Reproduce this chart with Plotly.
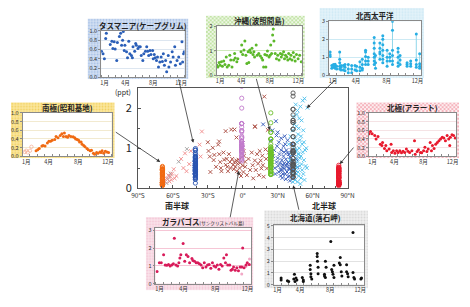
import base64
import plotly.graph_objects as go

W, H = 470, 307
FONT = "Noto Sans CJK JP"

# ---------------- inset data (x = month position, 1 = start of Jan, 13 = end of Dec ; y = ppt)
tas_month = [1.05,1.28,1.47,1.66,1.75,2.31,2.55,2.69,2.88,3.02,3.25,3.34,3.63,3.81,3.95,4.09,4.19,4.33,4.42,4.66,4.80,4.98,
             5.13,5.36,5.50,5.59,5.83,5.97,6.06,6.30,6.44,6.63,6.77,7.00,7.14,7.38,7.56,7.70,7.84,8.03,8.17,8.41,8.50,8.64,
             8.78,8.97,9.11,9.25,9.44,9.63,9.81,9.95,10.10,10.28,10.43,10.66,10.75,10.99,11.22,11.36,11.59,11.69,11.92,
             12.16,12.39,12.63,12.72,12.86,12.95]
tas_ppt = [0.56,0.51,0.40,0.84,0.95,0.71,0.78,0.62,0.77,0.61,0.36,0.75,0.88,0.95,0.69,0.80,0.99,0.58,0.69,0.55,0.42,0.78,
           0.51,0.47,0.42,0.66,0.56,0.73,0.69,0.62,0.66,0.66,0.47,0.36,0.51,0.56,0.66,0.56,0.47,0.58,0.49,0.58,0.40,0.49,
           0.42,0.36,0.44,0.22,0.33,0.44,0.34,0.51,0.26,0.36,0.12,0.47,0.22,0.33,0.55,0.44,0.66,0.26,0.36,
           0.44,0.29,0.77,0.33,0.51,0.55]

oki_month = [1.05,1.18,1.36,1.50,1.68,1.82,2.00,2.18,2.36,2.49,2.72,2.86,2.99,3.17,3.40,3.54,3.63,3.85,3.99,4.44,
             4.53,4.67,4.85,4.98,5.12,5.26,5.44,5.53,5.66,5.80,5.98,6.12,6.25,6.34,6.57,6.71,6.93,7.16,7.34,7.48,
             7.61,7.79,7.93,8.06,8.15,8.38,8.52,8.61,8.74,8.88,8.97,9.06,9.24,9.42,9.60,9.78,9.97,10.10,10.24,10.42,
             10.55,10.69,10.87,11.01,11.14,11.32,11.46,11.60,11.78,11.91,12.05,12.23,12.46,12.68,12.91]
oki_ppt = [0.41,0.34,0.52,0.41,0.55,0.37,0.58,0.44,0.75,0.34,0.41,0.82,0.62,0.34,0.62,0.89,0.71,0.55,0.68,0.96,
           1.23,0.85,1.03,1.40,0.82,0.48,0.96,0.52,1.03,0.93,1.10,0.85,0.96,0.75,1.23,0.82,0.89,0.79,0.71,0.62,
           0.34,0.85,0.34,0.82,0.99,0.75,0.82,1.23,0.89,1.64,1.89,1.40,0.89,0.68,0.82,0.62,0.89,0.75,0.85,0.96,
           0.68,0.82,0.75,0.62,0.89,0.68,0.82,0.62,0.93,0.75,0.58,0.85,0.68,0.82,0.55]

nwp_month = [1.13,1.35,1.56,1.78,1.99,2.38,2.55,2.86,3.07,3.50,3.94,4.37,4.58,5.01,5.32,5.75,6.09,6.87,7.04,7.61,
             7.99,8.55,8.90,9.25,9.98,10.24,11.15,11.62,12.35,12.79]
nwp_ppt = [[1.05,1.15,1.30],[0.40,0.55],[0.45,0.60],[0.40,0.50,0.62],[0.35,0.50],[0.35,0.50,0.70,0.90,1.30],
           [0.30,0.45,0.55],[0.30,0.55],[0.25,0.45,0.60],[0.15,0.35,0.60],[0.15,0.35,0.55],[0.30,0.55],[0.25,0.50],
           [0.25,0.45,0.75],[0.30,0.40,0.60,0.90],[0.60,0.80,1.05,1.30,1.40],[0.60,0.80,1.00],
           [0.60,0.80,1.00,1.20,1.50,1.80,2.10],[0.40,0.70,1.10],[0.90,1.20,1.30,1.50,1.80],
           [0.70,0.90,1.10,1.40,1.70,2.00,2.20],[0.50,0.80,1.00,1.40],[0.80,1.00,1.20],
           [0.60,0.80,1.10,1.40,2.50,3.00],[0.50,0.70,1.00,1.30,1.50],[0.60,0.85,1.10],[0.50,0.60,0.70],
           [0.50,0.65,0.80],[0.45,0.60,0.85,2.30],[0.40,0.50,0.65,1.20]]

syo_month = [2.82,3.04,3.25,3.60,3.77,4.03,4.34,4.55,4.77,4.99,5.33,5.51,5.77,6.07,6.29,6.50,6.63,6.85,7.06,7.24,
             7.50,7.80,8.02,8.15,8.36,8.54,8.67,8.88,9.01,9.23,9.40,9.66,9.84,10.10,10.27,10.53,10.70,10.96,11.14,11.40,
             11.57,11.70,11.92,12.13,12.35,12.57]
syo_ppt = [0.13,0.15,0.18,0.24,0.25,0.24,0.31,0.35,0.35,0.37,0.39,0.46,0.43,0.48,0.52,0.46,0.54,0.46,0.44,0.48,
           0.46,0.45,0.43,0.40,0.39,0.37,0.33,0.33,0.28,0.25,0.22,0.18,0.15,0.13,0.14,0.07,0.05,0.09,0.07,0.10,
           0.09,0.13,0.07,0.12,0.10,0.09]
syo_pale_month = [1.30, 1.50, 1.70, 2.00, 2.20]
syo_pale_ppt = [0.10, 0.13, 0.09, 0.13, 0.22]

alr_month = [1.03,1.22,1.45,1.81,1.99,2.25,2.57,2.79,2.88,3.15,3.33,3.46,3.78,4.05,4.13,4.36,4.58,4.81,5.03,5.25,
             5.48,5.70,5.93,6.15,6.37,6.60,6.91,7.27,7.36,7.63,7.81,8.08,8.25,8.52,8.70,8.97,9.15,9.42,9.60,9.73,
             9.96,10.18,10.40,10.63,10.85,11.08,11.30,11.52,11.75,11.97,12.11,12.19,12.42,12.64,12.87]
alr_ppt = [0.52,0.57,0.52,0.48,0.40,0.46,0.28,0.25,0.32,0.18,0.25,0.13,0.17,0.28,0.09,0.13,0.07,0.13,0.09,0.13,
           0.08,0.12,0.09,0.17,0.12,0.09,0.13,0.36,0.05,0.11,0.15,0.09,0.08,0.13,0.21,0.11,0.17,0.32,0.13,0.25,
           0.18,0.28,0.32,0.36,0.40,0.44,0.42,0.36,0.48,0.40,0.25,0.44,0.50,0.48,0.42]

gal_month = [1.20,1.49,1.73,2.02,2.22,2.42,2.63,2.83,3.03,3.24,3.36,3.56,3.77,3.93,4.05,4.17,4.46,4.66,4.86,5.07,
             5.27,5.56,5.68,5.88,6.09,6.29,6.49,6.70,6.90,7.10,7.31,7.51,7.71,7.92,8.12,8.32,8.53,8.73,8.93,9.14,
             9.34,9.54,9.75,9.87,10.03,10.28,10.44,10.60,10.76,10.97,11.17,11.37,11.58,11.78,11.90,12.07,12.31,12.47,12.72]
gal_ppt = [0.68,1.17,1.17,1.62,1.05,1.03,1.08,0.99,1.05,1.12,2.56,1.05,0.99,1.17,1.44,1.62,2.26,1.26,1.62,1.53,
           1.17,1.41,1.30,1.26,1.17,1.17,1.12,1.05,0.90,1.17,0.94,1.05,1.08,0.86,1.17,0.99,0.94,1.05,0.81,1.08,
           0.99,1.44,1.17,1.62,1.05,1.05,0.75,0.81,0.94,0.75,0.90,0.72,0.94,0.94,2.01,0.90,1.05,1.17,1.08]
gal_pale_month = [11.78, 12.30, 12.75]
gal_pale_ppt = [0.54, 0.97, 1.38]

hok_month = [1.97,1.97,2.81,2.98,3.65,3.74,3.82,3.95,4.07,4.79,4.92,4.92,5.84,5.84,5.93,5.93,6.05,6.77,6.77,6.81,
             6.89,6.89,7.74,7.74,7.86,7.86,7.95,8.58,8.70,8.79,8.87,9.00,9.00,9.71,9.84,9.84,9.97,10.05,10.68,10.68,
             10.81,10.89,11.53,11.53,11.65,11.74,12.58,12.66]
hok_ppt = [0.55,0.38,0.33,0.27,0.47,0.88,0.27,0.55,0.38,0.60,0.38,0.27,1.65,1.29,0.93,0.66,0.47,2.66,2.39,1.98,
           1.48,0.93,0.88,0.74,0.60,1.98,1.48,3.68,1.29,1.10,0.88,0.60,1.65,1.84,2.31,1.70,1.10,0.74,1.70,1.10,
           0.93,0.66,4.45,1.02,0.60,0.47,0.47,0.55]

# ---------------- main plot data (latitude, ppt)
syowa_lat, capegrim_lat, galapagos_lat = -69.0, -40.7, -0.9
hateruma_lat, ochiishi_lat, alert_lat = 24.1, 43.2, 82.5

gray_pts = [(-65.5,0.12),(-64.5,0.22),(-63.0,0.30),(-62.0,0.36),(-55.0,0.66),(-48.0,0.98)]
pink_pts = [(-66.8,0.16),(-65.4,0.24),(-64.0,0.32),(-62.9,0.16),(-62.1,0.28),(-61.3,0.20),(-60.7,0.36),(-59.3,0.47),
            (-58.5,0.24),(-57.0,0.30),(-53.0,0.73),(-51.0,0.50),(-49.6,0.87),(-48.3,0.42),(-46.0,0.60),(-44.6,0.93),
            (-37.1,1.09),(-36.2,0.79),(-35.1,1.42)]
brown_pts = [(-30.0,1.15),(-29.4,0.93),(-28.3,0.79),(-27.8,0.40),(-25.8,1.01),(-24.4,0.83),(-23.0,0.53),(-21.1,1.09),
             (-20.2,0.85),(-19.4,0.65),(-18.8,0.50),(-18.3,0.42),(-16.6,0.89),(-16.0,0.71),(-14.6,0.58),(-13.8,0.73),
             (-13.3,0.53),(-12.7,0.42),(-11.9,0.85),(-11.0,0.65),(-10.5,0.50),(-9.9,1.47),(-9.1,0.73),(-8.3,0.58),
             (-7.7,0.47),(-7.2,0.65),(-6.3,0.53),(-5.5,0.69),(-5.0,0.42),(-4.4,0.61),(-3.6,0.71),(-2.7,0.50),
             (-2.2,0.63),(-0.8,0.77),(0.0,0.56),(0.6,0.40),(1.1,0.81),(2.0,0.66),(0.7,0.93),(2.1,0.53),(3.5,0.32),
             (4.9,0.73),(6.3,0.45),(7.7,0.89),(8.5,0.57),(9.0,0.24),(10.4,1.54),(10.4,0.69),(11.2,0.45),(12.3,0.85),
             (13.2,0.61),(14.0,0.32),(14.6,0.93),(15.4,0.69),(16.0,0.49),(16.8,0.81),(17.3,0.57),(17.9,0.28),
             (19.6,0.97),(20.1,0.73),(20.7,0.49),(21.5,1.46),(22.4,0.89),(-20.3,1.17),(-14.7,1.43),(-7.1,1.47),
             (-5.4,1.27),(10.5,1.55),(-25.0,0.70),(-3.0,0.36),(-1.5,0.30),(18.5,2.30)]
dblue_pts = [(17.5,1.60),(24.0,1.20),(25.5,1.45),(27.0,0.95),(28.5,1.68),(29.0,1.32),(29.5,1.05),(30.0,0.75),
             (30.5,0.55),(31.0,1.15),(31.5,0.85),(32.0,0.62),(32.5,0.45),(33.0,0.95),(33.5,0.70),(34.0,0.52),
             (34.5,0.35),(35.0,0.80),(35.5,0.62),(36.0,0.48),(36.5,1.10),(37.0,0.72),(37.5,0.55),(38.0,0.40),
             (38.5,0.88),(39.0,0.65),(39.5,0.50),(40.0,0.30),(40.5,0.78),(41.0,0.58),(41.5,0.42),(42.0,0.95),
             (42.5,0.68),(43.0,0.45),(44.0,0.85),(44.5,0.60),(45.0,0.38),(46.0,0.72),(47.0,0.52),(33.0,1.25),
             (36.0,1.30),(38.5,1.20),(34.0,0.25),(37.0,0.22),(40.5,0.18),(31.0,0.40),(29.0,0.65),(27.5,0.50),
             (42.5,1.10),(26.0,0.80),(32.5,0.30),(35.5,0.90),(39.5,0.85),(36.5,0.35),(34.5,0.58),(38.0,0.60),
             (40.0,0.48),(41.5,0.70),(33.5,0.45),(37.5,0.95),(30.0,1.40),(35.0,1.05),(28.0,0.35),(43.5,0.25),
             (39.0,0.28)]
lblue_pts = [(45.5,2.10),(47.0,1.95),(49.5,2.05),(51.5,2.20),(53.0,2.25),(48.5,1.75),(50.5,1.70),(46.0,1.55),
             (44.0,1.80),(52.0,1.45),(47.5,1.35),(45.0,1.25),(49.0,1.20),(51.0,1.10),(53.5,0.95),(44.5,1.05),
             (46.5,0.95),(48.0,0.85),(50.0,0.80),(52.5,0.70),(54.0,0.55),(45.5,0.75),(47.0,0.65),(49.0,0.55),
             (51.0,0.45),(43.5,0.60),(44.5,0.45),(46.0,0.35),(48.0,0.30),(50.0,0.25),(45.0,0.20),(47.0,0.15),
             (49.5,0.10),(42.0,0.85),(41.0,1.30),(39.5,1.10),(40.5,0.70),(43.0,1.45),(46.5,1.15),(48.5,1.00),
             (50.5,0.60),(52.0,0.35),(53.0,0.20),(55.0,0.50),(44.0,0.30),(46.0,0.50),(47.5,0.40),(49.0,0.75),
             (51.5,0.90),(45.0,0.95),(43.0,0.15),(54.5,1.00),(42.0,0.40),(48.0,1.50),(46.5,1.85),(50.0,1.30),
             (44.5,1.60),(52.5,1.15),(45.5,0.55),(47.5,0.85),(55.5,2.02)]

month_ticks = [1.5, 4.5, 8.5, 12.5]
month_text = ["1月", "4月", "8月", "12月"]
lat_ticks = [-90, -60, -30, 0, 30, 60, 90]
lat_text = ["90°S", "60°S", "30°S", "0°", "30°N", "60°N", "90°N"]

fig = go.Figure()


def unzip(pts):
    return [p[0] for p in pts], [p[1] for p in pts]


def add_cross(pts, color):
    lat, v = unzip(pts)
    fig.add_trace(go.Scatter(x=lat, y=v, mode="markers", xaxis="x", yaxis="y", hoverinfo="skip",
                             marker=dict(symbol="x-thin-open", size=3.8, color=color,
                                         line=dict(color=color, width=0.9))))


def add_column(lat, vals, color):
    fig.add_trace(go.Scatter(x=[lat] * len(vals), y=vals, mode="markers", xaxis="x", yaxis="y", hoverinfo="skip",
                             marker=dict(symbol="circle-open", size=4.2, color=color,
                                         line=dict(color=color, width=0.9))))


add_cross(gray_pts, "#a0a0a0")
add_cross(pink_pts, "#f08a8a")
add_cross(brown_pts, "#a8473c")
add_cross(dblue_pts, "#3158b8")
add_cross(lblue_pts, "#4cc0ec")
add_column(syowa_lat, syo_ppt + syo_pale_ppt, "#f06a12")
add_column(capegrim_lat, tas_ppt, "#2a55b0")
add_column(galapagos_lat, gal_ppt, "#c27ccc")
add_column(hateruma_lat, oki_ppt, "#6cbf2a")
add_column(ochiishi_lat, hok_ppt, "#555555")
add_column(alert_lat, alr_ppt, "#e8192c")


def add_inset(n, months, vals, color, size=3.0, symbol="circle"):
    fig.add_trace(go.Scatter(x=months, y=vals, mode="markers", xaxis=f"x{n}", yaxis=f"y{n}", hoverinfo="skip",
                             marker=dict(symbol=symbol, size=size, color=color, line=dict(width=0))))


add_inset(2, tas_month, tas_ppt, "#2b5fb8")
add_inset(3, oki_month, oki_ppt, "#5cb82a")
# NW Pacific: vertical range lines + points
lx, ly, mx, my = [], [], [], []
for m, vals in zip(nwp_month, nwp_ppt):
    lx += [m, m, None]
    ly += [min(vals), max(vals), None]
    mx += [m] * len(vals)
    my += vals
fig.add_trace(go.Scatter(x=lx, y=ly, mode="lines", xaxis="x4", yaxis="y4", hoverinfo="skip",
                         line=dict(color="#8fd6ea", width=1)))
add_inset(4, mx, my, "#27aee4")
fig.add_trace(go.Scatter(x=syo_pale_month, y=syo_pale_ppt, mode="markers", xaxis="x5", yaxis="y5",
                         hoverinfo="skip", marker=dict(symbol="circle-open", size=3.4, color="#f5b39c",
                                                       line=dict(color="#f5b39c", width=0.8))))
add_inset(5, syo_month, syo_ppt, "#f06a12")
add_inset(6, alr_month, alr_ppt, "#e8192c")
add_inset(7, gal_pale_month, gal_pale_ppt, "#f2a9c6")
add_inset(7, gal_month, gal_ppt, "#d81b5a")
add_inset(8, hok_month, hok_ppt, "#111111")


# ---------------- patterned panel backgrounds (inline SVG images)
def pattern_uri(w, h, base, fg, kind):
    if kind == "checker":
        pat = (f'<pattern id="p" width="4" height="4" patternUnits="userSpaceOnUse">'
               f'<rect width="4" height="4" fill="{base}"/><rect width="2" height="2" fill="{fg}"/>'
               f'<rect x="2" y="2" width="2" height="2" fill="{fg}"/></pattern>')
    else:
        pat = (f'<pattern id="p" width="3" height="3" patternUnits="userSpaceOnUse">'
               f'<rect width="3" height="3" fill="{base}"/><circle cx="1.5" cy="1.5" r="0.9" fill="{fg}"/></pattern>')
    svg = (f'<svg xmlns="http://www.w3.org/2000/svg" width="{w}" height="{h}" viewBox="0 0 {w} {h}">'
           f'<defs>{pat}</defs><rect width="{w}" height="{h}" fill="url(#p)"/></svg>')
    return "data:image/svg+xml;base64," + base64.b64encode(svg.encode()).decode()


# ---------------- layout
layout = dict(width=W, height=H, margin=dict(l=0, r=0, t=0, b=0), autosize=False,
              paper_bgcolor="white", plot_bgcolor="white", showlegend=False, hovermode=False,
              font=dict(family=FONT, color="#222"))

layout["xaxis"] = dict(domain=[135 / W, 351 / W], range=[-90, 90], anchor="y", tickvals=lat_ticks,
                       ticktext=lat_text, ticks="inside", ticklen=3, tickcolor="#555", showline=True, mirror=True,
                       linecolor="#555", linewidth=1, showgrid=False, zeroline=False, ticklabelstandoff=1,
                       tickfont=dict(size=6.5, color="#333"),
                       minor=dict(dtick=10, ticks="inside", ticklen=2, tickcolor="#555"))
layout["yaxis"] = dict(domain=[1 - 190.7 / H, 1 - 87 / H], range=[0, 2.52], anchor="x", tickvals=[0, 1, 2],
                       ticks="inside", ticklen=3, tickcolor="#555", showline=True, mirror=True, linecolor="#555",
                       linewidth=1, showgrid=False, zeroline=False, ticklabelstandoff=3,
                       tickfont=dict(size=11, color="#222"),
                       minor=dict(dtick=0.5, ticks="inside", ticklen=2, tickcolor="#555"))

insets = [
    # n, plot box (x0,x1,y0,y1), panel box, pattern base, pattern fg, pattern kind, grid colour, y range, ticks
    (2, (97, 183, 28, 76), (83, 187, 15, 78), "#d6e2f3", "#9cbae4", "dots", "#dde6f0", [0, 1.0],
     [0, 0.2, 0.4, 0.6, 0.8, 1.0], ["0.0", "0.2", "0.4", "0.6", "0.8", "1.0"]),
    (3, (216, 304, 23, 74), (205, 307, 12, 77), "#eef7e6", "#c3e4a6", "checker", "#cfe9bb", [0, 2.0],
     [0, 1, 2], ["0", "1", "2"]),
    (4, (332, 427, 18, 74), (322, 430, 4, 77), "#e4f3fa", "#cbe8f4", "dots", "#cdeaf4", [0, 3.0],
     [0, 1, 2, 3], ["0", "1", "2", "3"]),
    (5, (16, 108, 113, 158), (4, 111, 102, 160), "#fbe79e", "#f1cf5c", "dots", "#f2ead0", [0, 1.0],
     [0, 0.2, 0.4, 0.6, 0.8, 1.0], ["0.0", "0.2", "0.4", "0.6", "0.8", "1.0"]),
    (6, (373, 463, 113, 158), (360, 466, 102, 160), "#fdeef0", "#f5b4bd", "checker", "#f5e3e5", [0, 1.0],
     [0, 0.2, 0.4, 0.6, 0.8, 1.0], ["0.0", "0.2", "0.4", "0.6", "0.8", "1.0"]),
    (7, (153, 252, 232, 290), (143, 254, 221, 297), "#fae3eb", "#f3c3d3", "dots", "#f6c6d6", [0, 3.15],
     [0, 1, 2, 3], ["0", "1", "2", "3"]),
    (8, (275, 368, 229, 291), (265, 372, 214, 295), "#f0f0f0", "#d6d6d6", "dots", "#e2e2e2", [0, 5.1],
     [0, 1, 2, 3, 4, 5], ["0", "1", "2", "3", "4", "5"]),
]

shapes, images = [], []
for n, pb, bb, base, fg, kind, grid, yr, ytv, ytt in insets:
    x0, x1, y0, y1 = pb
    bw, bh = bb[1] - bb[0], bb[3] - bb[2]
    images.append(dict(source=pattern_uri(bw, bh, base, fg, kind), xref="paper", yref="paper",
                       x=bb[0] / W, y=1 - bb[2] / H, sizex=bw / W, sizey=bh / H, xanchor="left", yanchor="top",
                       sizing="stretch", layer="below"))
    shapes.append(dict(type="rect", xref="paper", yref="paper", x0=x0 / W, x1=x1 / W,
                       y0=1 - y1 / H, y1=1 - y0 / H, fillcolor="white", line=dict(width=0), layer="below"))
    layout[f"xaxis{n}"] = dict(domain=[x0 / W, x1 / W], range=[1, 13], anchor=f"y{n}", tickvals=month_ticks,
                               ticktext=month_text, ticks="", showline=True, mirror=True, linecolor="#8a8a8a",
                               linewidth=0.8, showgrid=False, zeroline=False, ticklabelstandoff=0,
                               tickfont=dict(size=5.5, color="#333"),
                               minor=dict(tickvals=list(range(1, 14)), ticks="inside", ticklen=2,
                                          tickcolor="#8a8a8a", showgrid=False))
    layout[f"yaxis{n}"] = dict(domain=[1 - y1 / H, 1 - y0 / H], range=yr, anchor=f"x{n}", tickvals=ytv,
                               ticktext=ytt, ticks="outside", ticklen=2, tickcolor="#8a8a8a", showline=True,
                               mirror=True, linecolor="#8a8a8a", linewidth=0.8, showgrid=True, gridcolor=grid,
                               gridwidth=0.7, zeroline=False, tickfont=dict(size=5.5, color="#333"))

layout["shapes"] = shapes
layout["images"] = images

annotations = []
titles = [
    ("<b>タスマニア(ケープグリム)</b>", 140, 22),
    ("<b>沖縄(波照間島)</b>", 260, 17),
    ("<b>北西太平洋</b>", 379, 12),
    ("<b>南極(昭和基地)</b>", 62, 107),
    ("<b>北極(アラート)</b>", 418, 107),
    ("<b>ガラパゴス</b><span style='font-size:4.6px'>(サンクリストバル島)</span>", 202, 226),
    ("<b>北海道(落石岬)</b>", 318, 221),
]
for text, x, y in titles:
    annotations.append(dict(text=text, x=x / W, y=1 - y / H, xref="paper", yref="paper", showarrow=False,
                            xanchor="center", yanchor="middle", font=dict(size=7.5, color="#222")))

for text, x, y, size in [("(ppt)", 120, 91.5, 7), ("<b>南半球</b>", 175, 209, 8), ("<b>北半球</b>", 327, 209, 8)]:
    annotations.append(dict(text=text, x=x / W, y=1 - y / H, xref="paper", yref="paper", showarrow=False,
                            xanchor="center", yanchor="middle", font=dict(size=size, color="#222")))

arrows = [  # (head, tail) in pixels
    ((158, 164), (112, 133)),
    ((192, 144), (177, 79)),
    ((271, 131), (257, 78)),
    ((309, 108), (339, 78)),
    ((343, 166), (358, 148)),
    ((239, 173), (230, 221)),
    ((295, 188), (301, 214)),
]
for (hx, hy), (tx, ty) in arrows:
    annotations.append(dict(text="", x=hx / W, y=1 - hy / H, xref="paper", yref="paper", ax=tx - hx, ay=ty - hy,
                            axref="pixel", ayref="pixel", showarrow=True, arrowhead=2, arrowsize=0.9,
                            arrowwidth=0.8, arrowcolor="#333"))
layout["annotations"] = annotations

fig.update_layout(**layout)
fig.write_html("out.html", config={"displayModeBar": False},
               post_script="document.body.style.margin='0';document.body.style.overflow='hidden';")
